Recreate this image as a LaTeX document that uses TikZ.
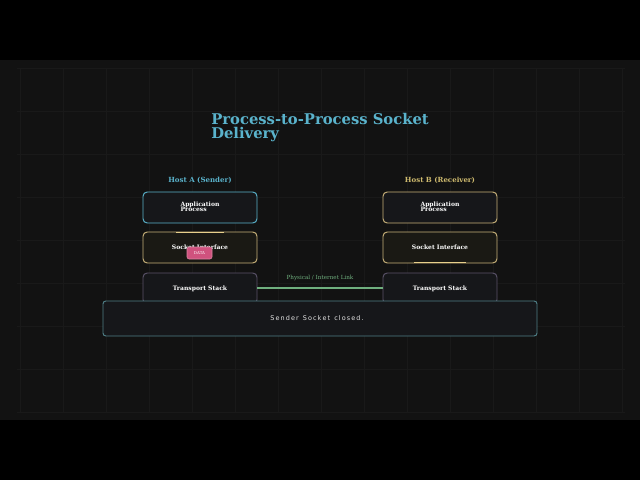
\documentclass[tikz,border=0pt]{standalone}
\usepackage{fontspec}
\setmainfont{DejaVu Serif}
\newfontfamily\sansf{DejaVu Sans}
\usetikzlibrary{positioning}
\definecolor{panelbg}{HTML}{121212}
\definecolor{gridline}{HTML}{191919}
\definecolor{tealc}{HTML}{5AB3CC}
\definecolor{goldc}{HTML}{C9B27A}
\definecolor{goldhi}{HTML}{E8D08C}
\definecolor{purplec}{HTML}{5A5268}
\definecolor{boxbg}{HTML}{16171A}
\definecolor{sockbg}{HTML}{1A1914}
\definecolor{linkc}{HTML}{6FAF7E}
\definecolor{pinkc}{HTML}{D0527E}
\definecolor{panelc}{HTML}{4F7F86}

\tikzset{
  layerbox/.style={draw, rounded corners=3, line width=0.7pt, fill=boxbg,
    minimum width=114*0.025cm, minimum height=31*0.025cm, inner sep=0pt,
    text=white, font=\bfseries\fontsize{4.3}{4.6}\selectfont},
  hostlabel/.style={font=\bfseries\fontsize{5}{6}\selectfont}
}

\begin{document}
\begin{tikzpicture}[x=0.025cm,y=-0.025cm]
	% page and backdrop
	\fill [black] (0,0) rectangle (640,480);
	\fill [panelbg] (0,60) rectangle (640,420);
	\foreach \gx in {20,63,...,622}
		\draw [gridline,line width=0.5pt] (\gx,68)--(\gx,412);
	\foreach \gy in {68,111,...,412}
		\draw [gridline,line width=0.5pt] (17,\gy)--(625,\gy);

	% title
	\node (title) [anchor=north west, align=left, text=tealc, inner sep=0pt,
		font=\bfseries\fontsize{10.5}{10}\selectfont] at (211,113)
		{Process-to-Process Socket\\Delivery};

	% host A
	\node (hostA) [hostlabel, text=tealc] at (200,180) {Host A (Sender)};
	\node (appA) [layerbox, draw=tealc] at (200,207.5)
		{\begin{tabular}{@{}l@{}}Application\\[-1pt]Process\end{tabular}};
	\node (sockA) [layerbox, draw=goldc, fill=sockbg] at (200,247.5) {Socket Interface};
	\node (transA) [layerbox, draw=purplec] at (200,288.5) {\raisebox{1pt}{Transport Stack}};
	\draw [goldhi, line width=0.9pt] (176,232.4)--(224,232.4);

	% host B
	\node (hostB) [hostlabel, text=goldc!90!yellow] at (440,180) {Host B (Receiver)};
	\node (appB) [layerbox, draw=goldc] at (440,207.5)
		{\begin{tabular}{@{}l@{}}Application\\[-1pt]Process\end{tabular}};
	\node (sockB) [layerbox, draw=goldc, fill=sockbg] at (440,247.5) {Socket Interface};
	\node (transB) [layerbox, draw=purplec] at (440,288.5) {\raisebox{1pt}{Transport Stack}};
	\draw [goldhi, line width=0.9pt] (414,262.6)--(466,262.6);

	% link between the stacks
	\draw [linkc, line width=0.8pt] (transA.east |- 0,288) -- (transB.west |- 0,288)
		node [midway, above=1.5pt, font=\fontsize{4}{5}\selectfont] {Physical / Internet Link};

	% packet on its way
	\node (data) [fill=pinkc, draw=pinkc!70!white, rounded corners=1.5, line width=0.4pt,
		minimum width=25*0.025cm, minimum height=12*0.025cm, inner sep=0pt,
		text=white, font=\fontsize{2.8}{3}\selectfont] at (199.5,253) {DATA};

	% status bar
	\node (status) [draw=panelc, fill=boxbg, rounded corners=2, line width=0.7pt,
		minimum width=434*0.025cm, minimum height=35*0.025cm] at (320,318.5) {};
	\node (msg) [text=white!90!black, font=\sansf\fontsize{4.6}{5}\selectfont] at (317,318.5)
		{S\,e\,n\,d\,e\,r \ S\,o\,c\,k\,e\,t \ c\,l\,o\,s\,e\,d\,.};
\end{tikzpicture}
\end{document}
